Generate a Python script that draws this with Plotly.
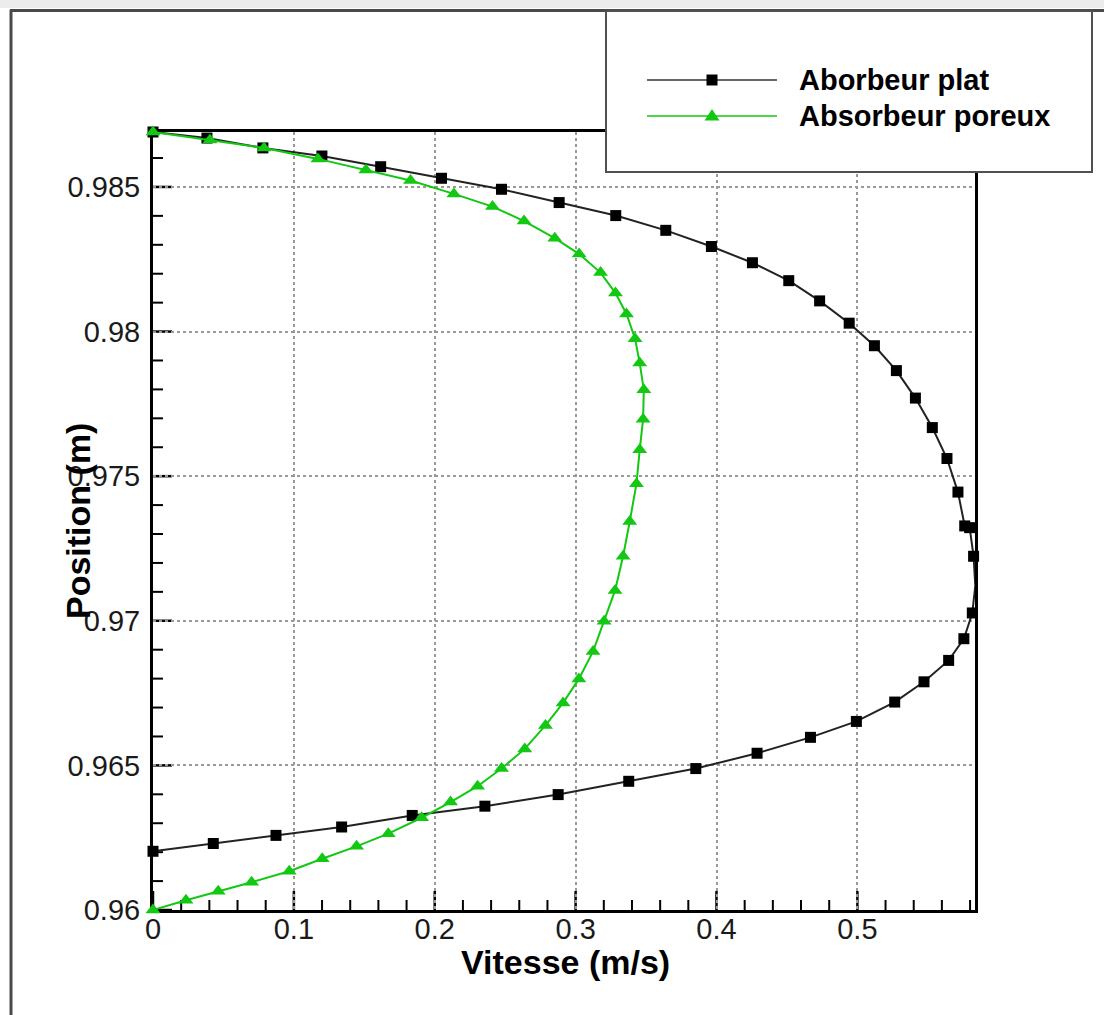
import plotly.graph_objects as go

# ---------------- data ----------------
plat_vitesse = [0.0, 0.0383, 0.0780, 0.1199, 0.1616, 0.2048, 0.2474, 0.2883, 0.3285, 0.3640,
                0.3964, 0.4255, 0.4513, 0.4732, 0.4942, 0.5121, 0.5277, 0.5412, 0.5532, 0.5636,
                0.5714, 0.5762, 0.5797, 0.5825, 0.5837, 0.5816, 0.5756, 0.5648, 0.5473, 0.5265,
                0.4993, 0.4667, 0.4288, 0.3853, 0.3377, 0.2876, 0.2356, 0.1840, 0.1339, 0.0873,
                0.0428, 0.0]
plat_position = [0.98690, 0.98669, 0.98635, 0.98607, 0.98570, 0.98530, 0.98492, 0.98446, 0.98401, 0.98350,
                 0.98294, 0.98238, 0.98176, 0.98106, 0.98029, 0.97951, 0.97865, 0.97770, 0.97668, 0.97561,
                 0.97445, 0.97328, 0.97322, 0.97223, 0.97121, 0.97027, 0.96938, 0.96863, 0.96789, 0.96719,
                 0.96652, 0.96597, 0.96542, 0.96489, 0.96445, 0.96399, 0.96359, 0.96327, 0.96287, 0.96258,
                 0.96230, 0.96203]

poreux_vitesse = [0.0, 0.0404, 0.0788, 0.1171, 0.1511, 0.1828, 0.2136, 0.2410, 0.2634, 0.2852,
                  0.3025, 0.3177, 0.3283, 0.3361, 0.3422, 0.3455, 0.3484, 0.3479, 0.3455, 0.3432,
                  0.3384, 0.3337, 0.3280, 0.3202, 0.3124, 0.3023, 0.2911, 0.2786, 0.2639, 0.2474,
                  0.2304, 0.2112, 0.1907, 0.1670, 0.1445, 0.1201, 0.0967, 0.0700, 0.0463, 0.0234,
                  0.0]
poreux_position = [0.98690, 0.98662, 0.98635, 0.98597, 0.98559, 0.98522, 0.98476, 0.98432, 0.98382, 0.98323,
                   0.98268, 0.98204, 0.98133, 0.98061, 0.97975, 0.97891, 0.97799, 0.97697, 0.97591, 0.97474,
                   0.97343, 0.97223, 0.97105, 0.96998, 0.96894, 0.96799, 0.96716, 0.96638, 0.96557, 0.96489,
                   0.96428, 0.96373, 0.96319, 0.96264, 0.96220, 0.96177, 0.96134, 0.96096, 0.96065, 0.96034,
                   0.96]

x_range = [0, 0.5835]
y_range = [0.96, 0.98690]
x_tickvals = [0, 0.1, 0.2, 0.3, 0.4, 0.5]
x_ticktext = ["0", "0.1", "0.2", "0.3", "0.4", "0.5"]
x_minorvals = [0.02, 0.04, 0.06, 0.08, 0.12, 0.14, 0.16, 0.18, 0.22, 0.24, 0.26, 0.28,
               0.32, 0.34, 0.36, 0.38, 0.42, 0.44, 0.46, 0.48, 0.52, 0.54, 0.56, 0.58]
y_tickvals = [0.96, 0.965, 0.97, 0.975, 0.98, 0.985]
y_ticktext = ["0.96", "0.965", "0.97", "0.975", "0.98", "0.985"]
y_minorvals = [0.961, 0.962, 0.963, 0.964, 0.966, 0.967, 0.968, 0.969, 0.971, 0.972, 0.973, 0.974,
               0.976, 0.977, 0.978, 0.979, 0.981, 0.982, 0.983, 0.984, 0.986]

name_plat = "Aborbeur plat"
name_poreux = "Absorbeur poreux"
x_title = "Vitesse (m/s)"
y_title = "Position (m)"

# ---------------- layout geometry ----------------
W, H = 1104, 1015
L, R, T, B = 153, 975, 132, 910
GREEN = "#12c812"
FONT = "Liberation Sans, Arial, sans-serif"
MAJOR_LEN, MINOR_LEN = 19, 10


def px(x):
    return (x - L) / (R - L)


def py(y):
    return (B - y) / (B - T)


fig = go.Figure()
fig.add_trace(go.Scatter(
    x=plat_vitesse, y=plat_position, mode="lines+markers", name=name_plat,
    line=dict(color="#222222", width=2),
    marker=dict(symbol="square", size=11, color="black", line=dict(width=0)),
    cliponaxis=False, showlegend=False))
fig.add_trace(go.Scatter(
    x=poreux_vitesse, y=poreux_position, mode="lines+markers", name=name_poreux,
    line=dict(color=GREEN, width=2),
    marker=dict(symbol="triangle-up", size=13, color=GREEN, line=dict(width=0)),
    cliponaxis=False, showlegend=False))

axis_common = dict(
    showline=True, linewidth=3, linecolor="black", mirror=True,
    ticks="", showgrid=True, gridcolor="#999999", gridwidth=1.5, griddash="dot",
    zeroline=False, layer="below traces",
    tickfont=dict(family=FONT, size=29, color="#1a1a1a"),
)

fig.update_xaxes(range=x_range, tickmode="array", tickvals=x_tickvals, ticktext=x_ticktext,
                 ticklabelstandoff=-9, **axis_common)
fig.update_yaxes(range=y_range, tickmode="array", tickvals=y_tickvals, ticktext=y_ticktext,
                 ticklabelstandoff=4, **axis_common)

# inside tick marks, positioned on the axes' own data scale
tick_shapes = []
for v in x_tickvals + x_minorvals:
    ln = MAJOR_LEN if v in x_tickvals else MINOR_LEN
    tick_shapes.append(dict(type="line", xref="x", yref="paper", x0=v, x1=v, y0=0, y1=ln / (B - T),
                            line=dict(color="black", width=2.5 if ln == MAJOR_LEN else 2), layer="between"))
for v in y_tickvals + y_minorvals:
    ln = MAJOR_LEN if v in y_tickvals else MINOR_LEN
    tick_shapes.append(dict(type="line", xref="paper", yref="y", x0=0, x1=ln / (R - L), y0=v, y1=v,
                            line=dict(color="black", width=2.5 if ln == MAJOR_LEN else 2), layer="between"))

frame_shapes = [
    # outer frame of the screenshot
    dict(type="rect", xref="paper", yref="paper", x0=px(0), x1=px(W), y0=py(0), y1=py(8),
         fillcolor="#ececec", line=dict(width=0), layer="below"),
    dict(type="line", xref="paper", yref="paper", x0=px(10), x1=px(W), y0=py(10.5), y1=py(10.5),
         line=dict(color="#4a4a4a", width=3)),
    dict(type="line", xref="paper", yref="paper", x0=px(11), x1=px(11), y0=py(10), y1=py(H),
         line=dict(color="#4a4a4a", width=3)),
    # legend box
    dict(type="rect", xref="paper", yref="paper", x0=px(606), x1=px(1092), y0=py(11), y1=py(172),
         fillcolor="white", line=dict(color="#505050", width=2)),
    # legend symbols
    dict(type="line", xref="paper", yref="paper", x0=px(647), x1=px(777), y0=py(80), y1=py(80),
         line=dict(color="#333333", width=1.5)),
    dict(type="rect", xref="paper", yref="paper", x0=px(706.5), x1=px(717.5), y0=py(74.5), y1=py(85.5),
         fillcolor="black", line=dict(width=0)),
    dict(type="line", xref="paper", yref="paper", x0=px(647), x1=px(777), y0=py(116), y1=py(116),
         line=dict(color=GREEN, width=1.5)),
    dict(type="path", xref="paper", yref="paper",
         path=f"M {px(704.5)},{py(120.5)} L {px(719.5)},{py(120.5)} L {px(712)},{py(109)} Z",
         fillcolor=GREEN, line=dict(width=0)),
]

annotations = [
    dict(text=name_plat, xref="paper", yref="paper", x=px(797), y=py(80), xanchor="left", yanchor="middle",
         showarrow=False, font=dict(family=FONT, size=29, color="black", weight="bold")),
    dict(text=name_poreux, xref="paper", yref="paper", x=px(797), y=py(116), xanchor="left", yanchor="middle",
         showarrow=False, font=dict(family=FONT, size=29, color="black", weight="bold")),
    dict(text=x_title, xref="paper", yref="paper", x=px(565), y=py(962), xanchor="center", yanchor="middle",
         showarrow=False, font=dict(family=FONT, size=34, color="black", weight="bold")),
    dict(text=y_title, xref="paper", yref="paper", x=px(78), y=py(521), xanchor="center", yanchor="middle",
         textangle=-90, showarrow=False, font=dict(family=FONT, size=34, color="black", weight="bold")),
]

fig.update_layout(
    width=W, height=H,
    margin=dict(l=L, r=W - R, t=T, b=H - B, pad=0),
    paper_bgcolor="white", plot_bgcolor="white",
    shapes=tick_shapes + frame_shapes, annotations=annotations,
    showlegend=False,
)

fig.write_html(
    "out.html",
    config={"displayModeBar": False},
    post_script="document.body.style.margin='0';document.body.style.padding='0';"
                "document.body.style.overflow='hidden';",
)
